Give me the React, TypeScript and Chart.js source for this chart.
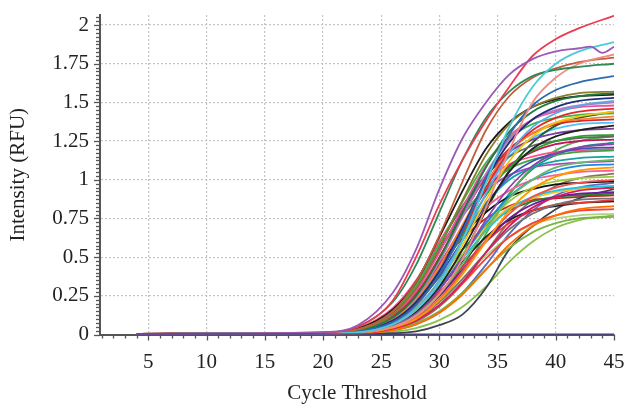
import React, { useEffect, useRef } from "react";
import { Chart, registerables } from "chart.js";

Chart.register(...registerables);

// Cycle numbers at which each curve's intensity was read
const CYCLES = [4, 20, 23, 26, 28, 30, 32, 34, 36, 38, 40, 42, 45];
const PURPLE_CYCLES = [4, 20, 23, 26, 28, 30, 32, 34, 36, 38, 40, 42, 43, 44, 45];

const X_TICKS = [5, 10, 15, 20, 25, 30, 35, 40, 45];
const X_TICK_LABELS = ["5", "10", "15", "20", "25", "30", "35", "40", "45"];
const Y_TICKS = [0, 0.25, 0.5, 0.75, 1, 1.25, 1.5, 1.75, 2];
const Y_TICK_LABELS = ["0", "0.25", "0.5", "0.75", "1", "1.25", "1.5", "1.75", "2"];

// Intensity (RFU) values per curve, read at CYCLES
const negControl = [0, 0, 0, 0, 0, 0, 0, 0, 0, 0, 0, 0, 0];
const purpleCurve = [0.004, 0.015, 0.06, 0.27, 0.55, 0.94, 1.27, 1.5, 1.68, 1.78, 1.83, 1.85, 1.86, 1.82, 1.86];
const redCurve = [0.004, 0.01, 0.05, 0.22, 0.5, 0.84, 1.13, 1.38, 1.6, 1.8, 1.91, 1.98, 2.06];
const cyanCurve = [0.004, 0.008, 0.014, 0.065, 0.16, 0.33, 0.61, 0.98, 1.34, 1.6, 1.75, 1.83, 1.89];
const darkGreenCurve = [0.004, 0.012, 0.05, 0.21, 0.45, 0.79, 1.13, 1.4, 1.57, 1.67, 1.71, 1.73, 1.75];
const salmonCurve = [0.004, 0.007, 0.012, 0.05, 0.12, 0.26, 0.49, 0.82, 1.19, 1.5, 1.66, 1.75, 1.81];
const brownCurve = [0.004, 0.01, 0.035, 0.15, 0.34, 0.64, 0.99, 1.32, 1.54, 1.66, 1.72, 1.76, 1.79];
const blueCurve = [0.004, 0.009, 0.02, 0.08, 0.19, 0.39, 0.67, 1.01, 1.29, 1.48, 1.58, 1.63, 1.67];
const c08 = [0.004, 0.01, 0.03, 0.13, 0.3, 0.56, 0.87, 1.16, 1.36, 1.47, 1.53, 1.56, 1.57];
const c09 = [0.004, 0.01, 0.025, 0.11, 0.25, 0.49, 0.79, 1.08, 1.31, 1.44, 1.51, 1.54, 1.56];
const c10 = [0.004, 0.011, 0.036, 0.16, 0.34, 0.63, 0.93, 1.2, 1.37, 1.47, 1.52, 1.54, 1.55];
const c11 = [0.004, 0.009, 0.02, 0.09, 0.21, 0.41, 0.69, 1.0, 1.24, 1.39, 1.47, 1.51, 1.53];
const c12 = [0.004, 0.008, 0.017, 0.07, 0.17, 0.35, 0.61, 0.91, 1.17, 1.34, 1.43, 1.48, 1.51];
const c13 = [0.004, 0.01, 0.024, 0.11, 0.24, 0.47, 0.76, 1.04, 1.26, 1.39, 1.45, 1.48, 1.5];
const c14 = [0.004, 0.01, 0.028, 0.13, 0.28, 0.53, 0.82, 1.09, 1.28, 1.39, 1.44, 1.47, 1.48];
const c15 = [0.004, 0.009, 0.019, 0.09, 0.2, 0.4, 0.66, 0.95, 1.18, 1.32, 1.4, 1.44, 1.46];
const c16 = [0.004, 0.008, 0.016, 0.07, 0.16, 0.34, 0.58, 0.87, 1.12, 1.28, 1.37, 1.41, 1.44];
const c17 = [0.004, 0.011, 0.033, 0.15, 0.32, 0.58, 0.86, 1.11, 1.27, 1.36, 1.4, 1.42, 1.43];
const c18 = [0.004, 0.01, 0.023, 0.1, 0.23, 0.44, 0.71, 0.98, 1.18, 1.3, 1.37, 1.39, 1.41];
const c19 = [0.004, 0.01, 0.027, 0.12, 0.26, 0.5, 0.77, 1.02, 1.2, 1.3, 1.36, 1.38, 1.39];
const c20 = [0.004, 0.008, 0.015, 0.07, 0.15, 0.31, 0.55, 0.82, 1.05, 1.2, 1.28, 1.32, 1.35];
const c21 = [0.004, 0.011, 0.031, 0.14, 0.29, 0.54, 0.8, 1.03, 1.18, 1.26, 1.3, 1.32, 1.33];
const c22 = [0.004, 0.009, 0.021, 0.09, 0.21, 0.4, 0.65, 0.9, 1.08, 1.19, 1.25, 1.28, 1.29];
const c23 = [0.004, 0.011, 0.036, 0.16, 0.33, 0.58, 0.83, 1.03, 1.15, 1.22, 1.25, 1.27, 1.28];
const c24 = [0.004, 0.01, 0.024, 0.11, 0.24, 0.45, 0.7, 0.93, 1.09, 1.18, 1.23, 1.25, 1.26];
const c25 = [0.004, 0.008, 0.014, 0.06, 0.14, 0.29, 0.5, 0.74, 0.95, 1.09, 1.17, 1.21, 1.23];
const c26 = [0.004, 0.009, 0.02, 0.09, 0.2, 0.38, 0.61, 0.84, 1.02, 1.12, 1.17, 1.2, 1.21];
const c27 = [0.004, 0.011, 0.033, 0.14, 0.31, 0.54, 0.77, 0.95, 1.07, 1.13, 1.16, 1.18, 1.19];
const c28 = [0.004, 0.01, 0.022, 0.1, 0.22, 0.41, 0.64, 0.85, 1.0, 1.08, 1.12, 1.14, 1.15];
const c29 = [0.004, 0.008, 0.013, 0.055, 0.13, 0.26, 0.46, 0.68, 0.88, 1.0, 1.08, 1.11, 1.13];
const c30 = [0.004, 0.008, 0.014, 0.065, 0.15, 0.3, 0.5, 0.72, 0.89, 1.0, 1.06, 1.09, 1.1];
const c31 = [0.004, 0.007, 0.01, 0.044, 0.1, 0.22, 0.39, 0.6, 0.8, 0.94, 1.02, 1.06, 1.08];
const c32 = [0.004, 0.01, 0.024, 0.11, 0.23, 0.43, 0.64, 0.82, 0.93, 1.0, 1.03, 1.05, 1.06];
const c33 = [0.004, 0.009, 0.016, 0.073, 0.17, 0.32, 0.52, 0.71, 0.86, 0.95, 0.99, 1.01, 1.02];
const c34 = [0.004, 0.008, 0.011, 0.048, 0.11, 0.23, 0.41, 0.61, 0.78, 0.89, 0.95, 0.98, 1.0];
const c35 = [0.004, 0.01, 0.028, 0.12, 0.25, 0.45, 0.64, 0.79, 0.89, 0.94, 0.97, 0.98, 0.99];
const c36 = [0.004, 0.009, 0.016, 0.069, 0.16, 0.3, 0.49, 0.67, 0.81, 0.89, 0.93, 0.95, 0.96];
const c37 = [0.004, 0.007, 0.009, 0.038, 0.09, 0.19, 0.34, 0.53, 0.7, 0.82, 0.89, 0.93, 0.95];
const c38 = [0.004, 0.009, 0.018, 0.081, 0.18, 0.34, 0.52, 0.69, 0.82, 0.88, 0.92, 0.94, 0.95];
const c39 = [0.004, 0.008, 0.012, 0.055, 0.13, 0.25, 0.42, 0.6, 0.75, 0.84, 0.89, 0.91, 0.92];
const c40 = [0.004, 0.01, 0.021, 0.092, 0.2, 0.37, 0.55, 0.7, 0.8, 0.86, 0.89, 0.9, 0.91];
const c41 = [0.004, 0.008, 0.01, 0.043, 0.1, 0.21, 0.36, 0.53, 0.68, 0.78, 0.84, 0.87, 0.88];
const c42 = [0.004, 0.009, 0.014, 0.062, 0.14, 0.27, 0.44, 0.6, 0.72, 0.8, 0.84, 0.85, 0.87];
const c43 = [0.004, 0.009, 0.016, 0.073, 0.16, 0.3, 0.47, 0.63, 0.74, 0.8, 0.83, 0.85, 0.86];
const c44 = [0.004, 0.006, 0.006, 0.028, 0.066, 0.14, 0.26, 0.42, 0.58, 0.7, 0.77, 0.81, 0.83];
const c45 = [0.004, 0.007, 0.009, 0.039, 0.093, 0.19, 0.33, 0.49, 0.63, 0.72, 0.77, 0.8, 0.81];
const c46 = [0.004, 0.007, 0.01, 0.047, 0.11, 0.21, 0.36, 0.51, 0.63, 0.71, 0.75, 0.77, 0.78];
const c47 = [0.004, 0.006, 0.007, 0.031, 0.073, 0.15, 0.27, 0.42, 0.56, 0.66, 0.72, 0.75, 0.76];
const lateGray = [0.004, 0.005, 0.005, 0.008, 0.02, 0.06, 0.13, 0.3, 0.55, 0.7, 0.81, 0.88, 0.94];
const lateGreen = [0.004, 0.005, 0.005, 0.018, 0.042, 0.093, 0.18, 0.31, 0.47, 0.6, 0.69, 0.74, 0.77];
const c50 = [0.004, 0.012, 0.041, 0.17, 0.35, 0.6, 0.83, 1.0, 1.1, 1.15, 1.18, 1.19, 1.2];
const c51 = [0.004, 0.007, 0.009, 0.043, 0.1, 0.22, 0.4, 0.65, 0.9, 1.08, 1.19, 1.25, 1.28];
const c52 = [0.004, 0.006, 0.006, 0.027, 0.066, 0.14, 0.27, 0.45, 0.65, 0.8, 0.9, 0.95, 0.98];
const c53 = [0.004, 0.012, 0.038, 0.16, 0.33, 0.56, 0.77, 0.93, 1.03, 1.08, 1.1, 1.11, 1.12];
const c54 = [0.004, 0.011, 0.031, 0.13, 0.27, 0.45, 0.62, 0.75, 0.83, 0.87, 0.88, 0.89, 0.9];
const c55 = [0.004, 0.008, 0.011, 0.05, 0.12, 0.25, 0.44, 0.69, 0.91, 1.07, 1.16, 1.21, 1.24];
const c56 = [0.004, 0.007, 0.007, 0.035, 0.083, 0.18, 0.33, 0.53, 0.73, 0.87, 0.96, 1.01, 1.04];
const c57 = [0.004, 0.008, 0.013, 0.058, 0.14, 0.29, 0.51, 0.8, 1.06, 1.24, 1.35, 1.4, 1.44];
const c58 = [0.004, 0.009, 0.022, 0.098, 0.22, 0.43, 0.69, 0.95, 1.15, 1.27, 1.33, 1.36, 1.37];

const SERIES: [number[], string][] = [
  [negControl, "#3f2f9f"],
  [purpleCurve, "#9b59b6"],
  [redCurve, "#ec3b52"],
  [cyanCurve, "#4fc8d8"],
  [darkGreenCurve, "#2f8a58"],
  [salmonCurve, "#f28b82"],
  [brownCurve, "#c0603a"],
  [blueCurve, "#2b6cb0"],
  [c08, "#8c7a2e"],
  [c09, "#1e7b3c"],
  [c10, "#1a1a1a"],
  [c11, "#1f2d7a"],
  [c12, "#5aa9e6"],
  [c13, "#b07cc6"],
  [c14, "#e8559a"],
  [c15, "#e02a2a"],
  [c16, "#f2c511"],
  [c17, "#3cb44b"],
  [c18, "#f58231"],
  [c19, "#d62728"],
  [c20, "#222222"],
  [c21, "#7b3fa0"],
  [c22, "#2ca02c"],
  [c23, "#666666"],
  [c24, "#c2185b"],
  [c25, "#8e44ad"],
  [c26, "#3f51b5"],
  [c27, "#43a047"],
  [c28, "#17a2a2"],
  [c29, "#66bb6a"],
  [c30, "#1e88e5"],
  [c31, "#ff9800"],
  [c32, "#f06292"],
  [c33, "#9ccc3c"],
  [c34, "#ef5350"],
  [c35, "#111111"],
  [c36, "#26c6da"],
  [c37, "#d81b60"],
  [c38, "#fbc02d"],
  [c39, "#6a1b9a"],
  [c40, "#2e7d32"],
  [c41, "#757575"],
  [c42, "#e53935"],
  [c43, "#212121"],
  [c44, "#ff6f00"],
  [c45, "#f44336"],
  [c46, "#aed581"],
  [c47, "#7cb342"],
  [lateGray, "#3d4650"],
  [lateGreen, "#8bc34a"],
  [c50, "#ff4f8b"],
  [c51, "#4caf50"],
  [c52, "#5c6bc0"],
  [c53, "#ab47bc"],
  [c54, "#c62828"],
  [c55, "#009688"],
  [c56, "#8d6e63"],
  [c57, "#1b5e20"],
  [c58, "#4fc3f7"],
];

const FONT_FAMILY = "'Liberation Serif', 'Times New Roman', serif";
const TEXT_COLOR = "#222222";
const AXIS_COLOR = "#555555";

const minorTicksPlugin = {
  id: "minorTicks",
  afterDraw(chart: any) {
    const { ctx } = chart;
    const xs = chart.scales.x;
    const ys = chart.scales.y;
    const area = chart.chartArea;
    ctx.save();
    ctx.strokeStyle = AXIS_COLOR;
    ctx.lineWidth = 1.3;
    for (let i = 1; i <= 45; i++) {
      const px = Math.round(xs.getPixelForValue(i)) + 0.5;
      const len = i % 5 === 0 ? 6 : 4;
      ctx.beginPath();
      ctx.moveTo(px, area.bottom);
      ctx.lineTo(px, area.bottom + len);
      ctx.stroke();
    }
    for (let k = 0; k * 0.025 <= ys.max + 1e-9; k++) {
      const py = Math.round(ys.getPixelForValue(k * 0.025)) + 0.5;
      const len = k % 10 === 0 ? 6 : 4;
      ctx.beginPath();
      ctx.moveTo(area.left, py);
      ctx.lineTo(area.left - len, py);
      ctx.stroke();
    }
    ctx.restore();
  },
};

export default function App() {
  const canvasRef = useRef<HTMLCanvasElement | null>(null);

  useEffect(() => {
    if (!canvasRef.current) return;
    const datasets = SERIES.map(([values, color], idx) => {
      const xs = values.length === PURPLE_CYCLES.length ? PURPLE_CYCLES : CYCLES;
      return {
        label: "S" + idx,
        data: values.map((v, i) => ({ x: xs[i], y: v })),
        borderColor: color,
        backgroundColor: color,
        borderWidth: idx === 0 ? 2.2 : 1.8,
        pointRadius: 0,
        fill: false,
        cubicInterpolationMode: "monotone" as const,
      };
    });

    const chart = new Chart(canvasRef.current, {
      type: "line",
      data: { datasets },
      plugins: [minorTicksPlugin],
      options: {
        animation: false,
        responsive: true,
        maintainAspectRatio: false,
        layout: { padding: { left: 0, right: 10, top: 15, bottom: 0 } },
        plugins: { legend: { display: false }, tooltip: { enabled: false } },
        scales: {
          x: {
            type: "linear",
            min: 0.85,
            max: 45,
            afterBuildTicks: (scale: any) => {
              scale.ticks = X_TICKS.map((v) => ({ value: v }));
            },
            afterFit: (scale: any) => {
              scale.height = 73.5;
              scale.paddingLeft = 0;
              scale.paddingRight = 0;
            },
            ticks: {
              autoSkip: false,
              maxRotation: 0,
              padding: 15,
              color: TEXT_COLOR,
              font: { family: FONT_FAMILY, size: 21 },
              callback: (_v: any, i: number) => X_TICK_LABELS[i],
            },
            grid: {
              drawTicks: false,
              lineWidth: 1.2,
              color: (c: any) =>
                c.tick && (c.tick.value === 45 || c.tick.value === 0) ? "rgba(0,0,0,0)" : "#c4c4c4",
            },
            border: { display: true, color: AXIS_COLOR, width: 2, dash: [2, 2] },
            title: {
              display: true,
              text: "Cycle Threshold",
              color: TEXT_COLOR,
              font: { family: FONT_FAMILY, size: 21 },
              padding: { top: 0, bottom: 2 },
            },
          },
          y: {
            type: "linear",
            min: 0,
            max: 2.065,
            afterBuildTicks: (scale: any) => {
              scale.ticks = Y_TICKS.map((v) => ({ value: v }));
            },
            afterFit: (scale: any) => {
              scale.width = 100;
              scale.paddingTop = 0;
              scale.paddingBottom = 0;
            },
            ticks: {
              autoSkip: false,
              padding: 11,
              color: TEXT_COLOR,
              font: { family: FONT_FAMILY, size: 21 },
              callback: (_v: any, i: number) => Y_TICK_LABELS[i],
            },
            grid: {
              drawTicks: false,
              lineWidth: 1.2,
              color: (c: any) => (c.tick && c.tick.value === 0 ? "rgba(0,0,0,0)" : "#c4c4c4"),
            },
            border: { display: true, color: AXIS_COLOR, width: 2, dash: [2, 2] },
            title: {
              display: true,
              text: "Intensity (RFU)",
              color: TEXT_COLOR,
              font: { family: FONT_FAMILY, size: 21 },
              padding: { top: 6, bottom: 0 },
            },
          },
        },
      },
    });
    return () => chart.destroy();
  }, []);

  return (
    <div style={{ position: "absolute", left: 0, top: 0, width: 624, height: 408, background: "#ffffff" }}>
      <canvas ref={canvasRef} />
    </div>
  );
}
